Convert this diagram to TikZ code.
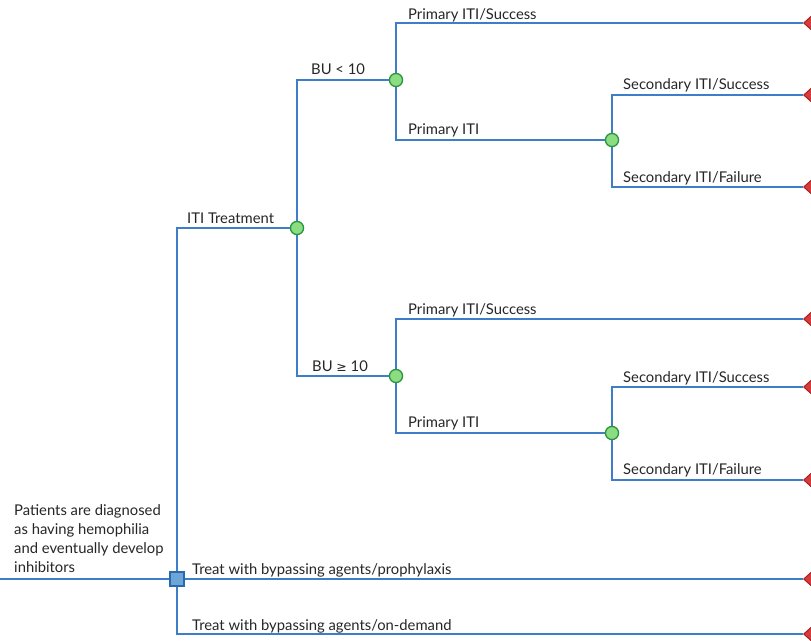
\documentclass[tikz,border=0pt]{standalone}
\usepackage{fontspec}
\setmainfont{Lato}
\newfontfamily\symfont{DejaVu Sans}
\usetikzlibrary{shapes.geometric}
\definecolor{lineblue}{RGB}{62,126,200}
\definecolor{chancefill}{RGB}{140,220,130}
\definecolor{chancedraw}{RGB}{40,150,60}
\definecolor{decfill}{RGB}{110,165,215}
\definecolor{decdraw}{RGB}{40,105,175}
\definecolor{termfill}{RGB}{215,60,60}
\definecolor{termdraw}{RGB}{170,30,30}
\tikzset{
  branch/.style={draw=lineblue, line width=1.8pt},
  chance/.style={circle, draw=chancedraw, fill=chancefill, line width=1.2pt, minimum size=13pt, inner sep=0pt},
  decision/.style={rectangle, draw=decdraw, fill=decfill, line width=1.2pt, minimum size=14pt, inner sep=0pt},
  terminal/.style={isosceles triangle, shape border rotate=180, isosceles triangle apex angle=84, draw=termdraw, fill=termfill, line width=1pt, minimum height=18pt, inner sep=0pt, anchor=apex},
  lbl/.style={anchor=base west, inner sep=0pt, font=\fontsize{14.8pt}{17pt}\selectfont, text=black!85},
}
\begin{document}
\begin{tikzpicture}[x=1pt, y=-1pt]
\useasboundingbox (0,0) rectangle (811,640);
\clip (0,0) rectangle (811,640);
% nodes
\coordinate (start) at (0,579);
\node[decision] (d) at (177,579) {};
\node[chance] (c0) at (297,228) {};
\node[chance] (c1) at (396,80) {};
\node[chance] (c2) at (612,140) {};
\node[chance] (c3) at (396,376) {};
\node[chance] (c4) at (612,433) {};
\node[terminal] (t1) at (803,23) {};
\node[terminal] (t2) at (803,95) {};
\node[terminal] (t3) at (803,187) {};
\node[terminal] (t4) at (803,319) {};
\node[terminal] (t5) at (803,387) {};
\node[terminal] (t6) at (803,480) {};
\node[terminal] (t7) at (803,579) {};
\node[terminal] (t8) at (803,634) {};
% connectors
\draw[branch] (start) -- (d.west);
\draw[branch] (d.north) |- (c0.west);
\draw[branch] (d.east) -- (t7.apex);
\draw[branch] (d.south) |- (t8.apex);
\draw[branch] (c0.north) |- (c1.west);
\draw[branch] (c0.south) |- (c3.west);
\draw[branch] (c1.north) |- (t1.apex);
\draw[branch] (c1.south) |- (c2.west);
\draw[branch] (c2.north) |- (t2.apex);
\draw[branch] (c2.south) |- (t3.apex);
\draw[branch] (c3.north) |- (t4.apex);
\draw[branch] (c3.south) |- (c4.west);
\draw[branch] (c4.north) |- (t5.apex);
\draw[branch] (c4.south) |- (t6.apex);
% redraw nodes on top
\node[decision] at (d) {};
\foreach \c in {c0,c1,c2,c3,c4} \node[chance] at (\c) {};
% labels
\node[lbl] (l0) at (187,223) {ITI Treatment};
\node[lbl] (l1) at (311,74) {BU < 10};
\node[lbl] (l2) at (312,371) {BU {\symfont\fontsize{12.5pt}{15pt}\selectfont ≥} 10};
\node[lbl] (l3) at (408,19) {Primary ITI/Success};
\node[lbl] (l4) at (408,134) {Primary ITI};
\node[lbl] (l5) at (623,89) {Secondary ITI/Success};
\node[lbl] (l6) at (623,182) {Secondary ITI/Failure};
\node[lbl] (l7) at (408,314) {Primary ITI/Success};
\node[lbl] (l8) at (408,427) {Primary ITI};
\node[lbl] (l9) at (623,382) {Secondary ITI/Success};
\node[lbl] (l10) at (623,474) {Secondary ITI/Failure};
\node[lbl] (l11) at (192,574) {Treat with bypassing agents/prophylaxis};
\node[lbl] (l12) at (192,630) {Treat with bypassing agents/on-demand};
\node[anchor=north west, inner sep=0pt, align=left, font=\fontsize{14.8pt}{19.2pt}\selectfont, text=black!85] (pat) at (14,504) {Patients are diagnosed\\as having hemophilia\\and eventually develop\\inhibitors};
\end{tikzpicture}
\end{document}
